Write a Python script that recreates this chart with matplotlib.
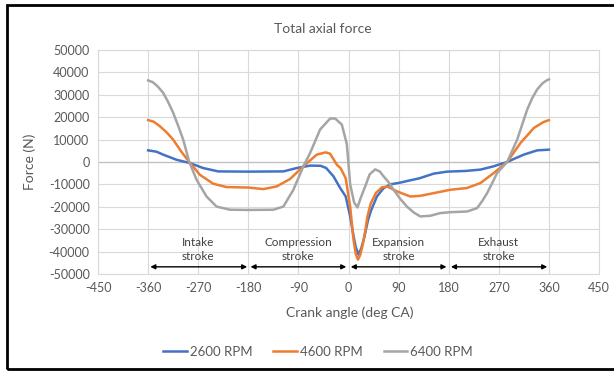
import matplotlib
matplotlib.use("Agg")
import matplotlib.pyplot as plt
from matplotlib.patches import Rectangle
from matplotlib.lines import Line2D

plt.rcParams['font.family'] = ['Lato', 'DejaVu Sans']

title = "Total axial force"
xlabel = "Crank angle (deg CA)"
ylabel = "Force (N)"
series_names = ["2600 RPM", "4600 RPM", "6400 RPM"]
colors = ["#4472C4", "#ED7D31", "#A5A5A5"]

x_2600 = [-360, -345, -333, -309, -286, -261, -234, -180, -117, -93, -69, -50, -40, -27, -15, -5,
          3, 9, 13, 18, 23, 28, 35, 40, 51, 63, 75, 93, 105, 127, 153, 177, 210, 237, 261, 285,
          300, 315, 339, 360]
y_2600 = [5200, 4600, 3300, 1000, -400, -2700, -4200, -4300, -4200, -2700, -1600, -1700, -2700,
          -6400, -11600, -15400, -24300, -33000, -38000, -41300, -38500, -34000, -26000, -22000,
          -15400, -11700, -10000, -9200, -8500, -7300, -5200, -4300, -4000, -3400, -1900, 0,
          1700, 3300, 5200, 5500]

x_4600 = [-360, -350, -339, -327, -315, -300, -286, -267, -243, -219, -180, -153, -129, -105, -81,
          -57, -41, -33, -21, -14, -5, 3, 9, 13, 17, 21, 25, 30, 34, 40, 49, 60, 70, 87, 111, 129,
          153, 183, 213, 237, 261, 285, 309, 333, 350, 360]
y_4600 = [18700, 18000, 16000, 13300, 10000, 4500, 0, -5700, -9700, -11200, -11400, -12100,
          -10900, -7600, -1900, 3300, 4300, 3700, -1200, -2800, -7300, -19900, -34700, -41000,
          -43600, -41500, -37600, -31000, -24300, -18500, -13900, -11300, -11000, -13100, -15400,
          -15100, -13900, -12400, -11600, -9400, -4900, 0, 8500, 15200, 17800, 18700]

x_6400 = [-360, -352, -343, -333, -324, -315, -306, -297, -286, -273, -255, -237, -213, -180, -135,
          -117, -99, -81, -69, -51, -33, -24, -12, -3, 3, 10, 16, 22, 30, 38, 48, 56, 63, 72, 81,
          93, 105, 117, 129, 147, 165, 183, 213, 231, 240, 249, 258, 267, 285, 303, 321, 330, 339,
          348, 355, 360]
y_6400 = [36400, 35700, 33800, 30900, 26800, 22000, 16200, 10000, 0, -7900, -15400, -19900,
          -21300, -21400, -21300, -19900, -12400, -1900, 4000, 14500, 19400, 19400, 16700, 8000,
          -10000, -18000, -20300, -16000, -10900, -5500, -3300, -4200, -6400, -9000, -12400,
          -16500, -19900, -22500, -24300, -24000, -22800, -22400, -22100, -20600, -17500, -13900,
          -9500, -4900, 0, 10000, 23400, 28500, 32400, 35000, 36300, 36900]

stroke_labels = ["Intake\nstroke", "Compression\nstroke", "Expansion\nstroke", "Exhaust\nstroke"]
stroke_centers = [-270, -90, 90, 270]
stroke_starts = [-356, -176, 4, 184]
stroke_ends = [-182, -4, 176, 357]

xticks = [-450, -360, -270, -180, -90, 0, 90, 180, 270, 360, 450]
yticks = [-50000, -40000, -30000, -20000, -10000, 0, 10000, 20000, 30000, 40000, 50000]

W, H = 614, 374
fig = plt.figure(figsize=(W / 100, H / 100), dpi=100)
ax = fig.add_axes([98 / W, 1 - 274 / H, (599 - 98) / W, (274 - 50) / H])

txt = "#595959"
grid = "#d9d9d9"

ax.set_xlim(-450, 450)
ax.set_ylim(-50000, 50000)
ax.set_xticks(xticks)
ax.set_yticks(yticks)
ax.set_xticklabels([str(v) for v in xticks])
ax.set_yticklabels([str(v) for v in yticks])
ax.tick_params(length=0, labelsize=9, colors=txt, pad=6)
ax.grid(True, color=grid, lw=0.8)
ax.set_axisbelow(True)
for s in ax.spines.values():
    s.set_color(grid)
    s.set_linewidth(0.8)
ax.axhline(0, color="#bfbfbf", lw=0.9, zorder=1)

for xs, ys, c, n in zip([x_2600, x_4600, x_6400], [y_2600, y_4600, y_6400], colors, series_names):
    ax.plot(xs, ys, color=c, lw=1.8, label=n, solid_joinstyle="round", zorder=3)

for lab, xc, x0, x1 in zip(stroke_labels, stroke_centers, stroke_starts, stroke_ends):
    ax.text(xc, -39000, lab, ha="center", va="center", fontsize=8.5, color="#404040",
            linespacing=1.35, zorder=4)
    ax.annotate("", xy=(x0, -46800), xytext=(x1, -46800),
                arrowprops=dict(arrowstyle="<|-|>", color="black", lw=1.0,
                                mutation_scale=7, shrinkA=0, shrinkB=0), zorder=4)

fig.text(323 / W, 1 - 29 / H, title, ha="center", va="center", fontsize=10, color=txt)
fig.text(350 / W, 1 - 313 / H, xlabel, ha="center", va="center", fontsize=10, color=txt)
fig.text(30 / W, 1 - 162 / H, ylabel, ha="center", va="center", fontsize=10, color=txt,
         rotation=90)

handles = [Line2D([0], [0], color=c, lw=1.8) for c in colors]
fig.legend(handles, series_names, loc="center", bbox_to_anchor=(318 / W, 1 - 352 / H),
           ncol=3, frameon=False, fontsize=9.5, handlelength=1.8, handletextpad=0.2,
           columnspacing=1.6, labelcolor=txt)

fig.patches.append(Rectangle((7 / W, 1 - 369 / H), 640 / W, (369 - 5) / H,
                             transform=fig.transFigure, fill=False, edgecolor="black",
                             lw=2.0, clip_on=False))

fig.savefig("out.png", dpi=100)
